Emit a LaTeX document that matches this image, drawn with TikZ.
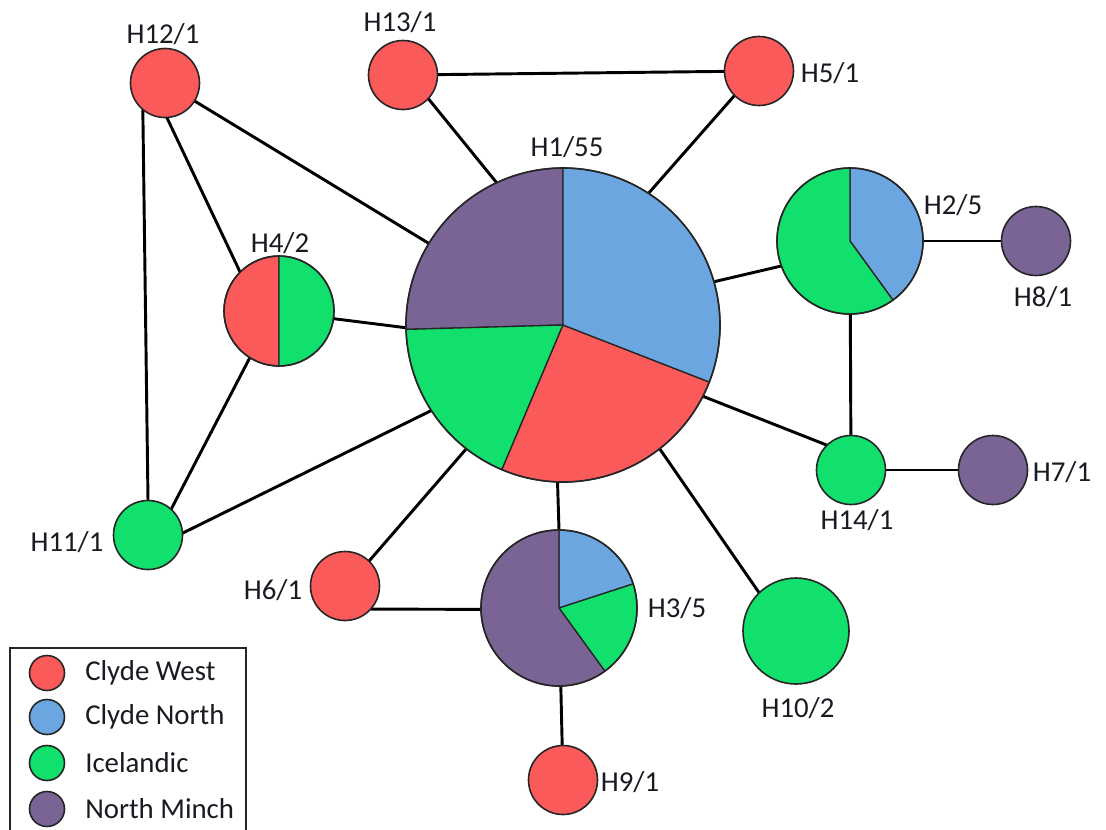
\documentclass[tikz,border=0pt]{standalone}
\usepackage{fontspec}
\setmainfont{Carlito}
\pgfdeclarelayer{back}
\pgfdeclarelayer{bg}
\pgfsetlayers{back,bg,main}
\definecolor{cw}{HTML}{FA5A5A}
\definecolor{cn}{HTML}{6CA6E0}
\definecolor{ic}{HTML}{12E06C}
\definecolor{nm}{HTML}{7A6496}
\definecolor{txt}{HTML}{1A1A22}
\newcommand\pieslice[5]{\filldraw[fill=#5, draw=black!85, line width=1pt, line join=round] (#1) -- +(#3:#2) arc[start angle=#3, end angle=#4, radius=#2] -- cycle;}
\tikzset{
  hap/.style={circle, draw=black!85, line width=1.2pt, inner sep=0pt, outer sep=0pt, minimum size=#1*1.5pt},
  piebase/.style={circle, inner sep=0pt, outer sep=0pt, minimum size=#1*1.5pt},
  lab/.style={font=\fontsize{21.6}{26}\selectfont, text=txt, inner sep=0pt},
  edge/.style={line width=2.2pt, draw=black},
}
\begin{document}
\begin{tikzpicture}[x=0.75pt, y=0.75pt]
\useasboundingbox (0,0) rectangle (1106,-829);
\begin{pgfonlayer}{back}
\fill[white] (0,0) rectangle (1106,-829);
\end{pgfonlayer}

% single-colour haplotypes
\node[hap=34.5, fill=cw] (h12) at (165,-83) {};
\node[hap=34.5, fill=cw] (h13) at (403,-75) {};
\node[hap=34.5, fill=cw] (h5)  at (759,-71) {};
\node[hap=34.5, fill=nm] (h8)  at (1036,-241) {};
\node[hap=34.5, fill=ic] (h14) at (851,-470) {};
\node[hap=34.5, fill=nm] (h7)  at (993,-470) {};
\node[hap=34.5, fill=ic] (h11) at (148,-535) {};
\node[hap=34.5, fill=cw] (h6)  at (345,-586) {};
\node[hap=53, fill=ic]   (h10) at (796,-631) {};
\node[hap=34.5, fill=cw] (h9)  at (563,-780) {};

% pie haplotypes
\node[piebase=157] (h1) at (563,-325) {};
\pieslice{h1.center}{117.75pt}{90}{181.6}{nm}
\pieslice{h1.center}{117.75pt}{181.6}{247.1}{ic}
\pieslice{h1.center}{117.75pt}{247.1}{338.7}{cw}
\pieslice{h1.center}{117.75pt}{-21.3}{90}{cn}
\draw[black!85, line width=1.2pt] (h1.center) circle[radius=117.75pt];

\node[piebase=73] (h2) at (850,-241) {};
\pieslice{h2.center}{54.75pt}{-54}{90}{cn}
\pieslice{h2.center}{54.75pt}{90}{306}{ic}
\draw[black!85, line width=1.2pt] (h2.center) circle[radius=54.75pt];

\node[piebase=78] (h3) at (559,-608) {};
\pieslice{h3.center}{58.5pt}{18}{90}{cn}
\pieslice{h3.center}{58.5pt}{-54}{18}{ic}
\pieslice{h3.center}{58.5pt}{90}{306}{nm}
\draw[black!85, line width=1.2pt] (h3.center) circle[radius=58.5pt];

\node[piebase=55] (h4) at (279,-311) {};
\pieslice{h4.center}{41.25pt}{90}{270}{cw}
\pieslice{h4.center}{41.25pt}{-90}{90}{ic}
\draw[black!85, line width=1.2pt] (h4.center) circle[radius=41.25pt];

% connectors
\begin{pgfonlayer}{bg}
\draw[edge] (h12.-130) -- (h11.north);
\draw[edge] (h12.-87) -- (h4.135);
\draw[edge] (h12) -- (h1);
\draw[edge] (h13.-43) -- (h1.115);
\draw[edge] (h13) -- (h5);
\draw[edge] (h5.-135) -- (h1.57);
\draw[edge] (h4.-8) -- (h1.181);
\draw[edge] (h4.-122) -- (h11.48);
\draw[edge] (h11.3) -- (h1.213);
\draw[edge] (h1.16) -- (h2.200);
\draw[edge] (h2) -- (h8);
\draw[edge] (h2) -- (h14);
\draw[edge] (h1.-27) -- (h14.134);
\draw[edge] (h14) -- (h7);
\draw[edge] (h1.-52) -- (h10.134);
\draw[edge] (h6.46) -- (h1.232);
\draw[edge] (h6.-42) -- (h3.181);
\draw[edge] (h1.268) -- (h3.north);
\draw[edge] (h3) -- (h9);
\end{pgfonlayer}

% labels
\node[lab] (l12) at (163,-34) {H12/1};
\node[lab] (l13) at (400,-22) {H13/1};
\node[lab] (l5)  at (830,-73) {H5/1};
\node[lab] (l1)  at (567,-147) {H1/55};
\node[lab] (l2)  at (953,-205) {H2/5};
\node[lab] (l8)  at (1043,-297) {H8/1};
\node[lab] (l4)  at (280,-243) {H4/2};
\node[lab] (l7)  at (1062,-472) {H7/1};
\node[lab] (l14) at (857,-520) {H14/1};
\node[lab] (l11) at (67,-542) {H11/1};
\node[lab] (l6)  at (273,-590) {H6/1};
\node[lab] (l3)  at (677,-608) {H3/5};
\node[lab] (l10) at (798,-708) {H10/2};
\node[lab] (l9)  at (630,-782) {H9/1};

% legend
\draw[line width=1.5pt, draw=black!85] (10,-648) rectangle (246,-835);
\node[hap=17.5, fill=cw] (k1) at (47,-673) {};
\node[hap=17.5, fill=cn] (k2) at (47,-717) {};
\node[hap=17.5, fill=ic] (k3) at (47,-763) {};
\node[hap=17.5, fill=nm] (k4) at (47,-809) {};
\node[lab, anchor=west] (t1) at (85,-673) {Clyde West};
\node[lab, anchor=west] (t2) at (85,-717) {Clyde North};
\node[lab, anchor=west] (t3) at (85,-763) {Icelandic};
\node[lab, anchor=west] (t4) at (85,-809) {North Minch};
\end{tikzpicture}
\end{document}
